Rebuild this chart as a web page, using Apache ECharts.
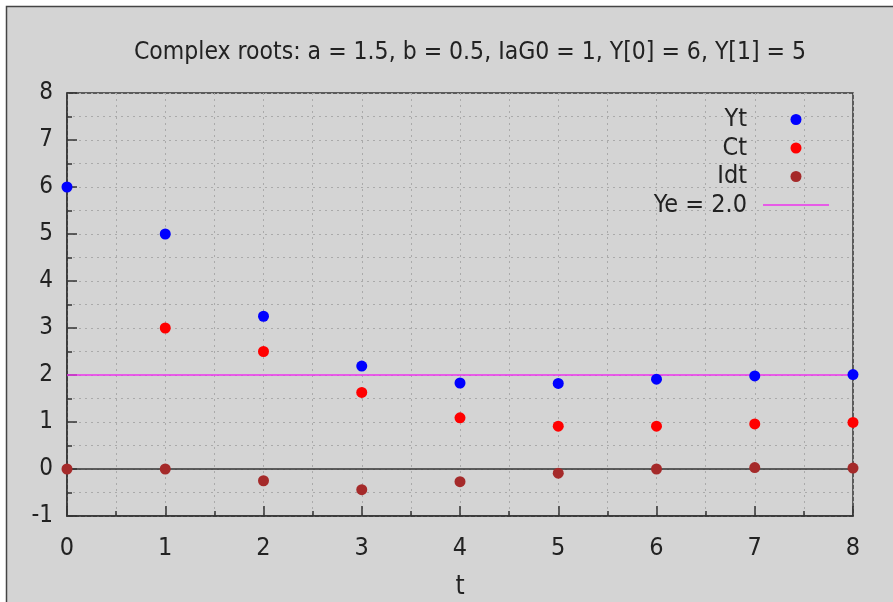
<!DOCTYPE html>
<html><head><meta charset="utf-8">
<script src="https://cdn.jsdelivr.net/npm/echarts@6/dist/echarts.min.js"></script>
<style>html,body{margin:0;padding:0;background:#fff}#c{width:893px;height:602px}</style>
</head><body><div id="c"></div>
<script>
var t = [0, 1, 2, 3, 4, 5, 6, 7, 8];
var Yt = [6, 5, 3.25, 2.19, 1.83, 1.82, 1.91, 1.98, 2.01];
var Ct = [null, 3, 2.5, 1.63, 1.09, 0.91, 0.91, 0.96, 0.99];
var Idt = [0, 0, -0.25, -0.44, -0.27, -0.09, 0, 0.03, 0.02];
var YeX = [0, 8];
var YeVal = [2, 2];
var titleText = 'Complex roots: a = 1.5, b = 0.5, IaG0 = 1, Y[0] = 6, Y[1] = 5';
var FONT = 'DejaVu Sans Condensed';

function pairs(xs, ys) { return xs.map(function (x, i) { return [x, ys[i]]; }).filter(function (p) { return p[1] !== null; }); }

var chart = echarts.init(document.getElementById('c'), null, {renderer: 'canvas'});
var dotted = {show: true, lineStyle: {color: '#aaaaaa', type: [2, 4], width: 1}};
chart.setOption({
  backgroundColor: '#ffffff',
  animation: false,
  graphic: [{type: 'rect', z: -100, silent: true, shape: {x: 6.5, y: 6.5, width: 950, height: 700},
    style: {fill: '#d4d4d4', stroke: '#444', lineWidth: 1.5}}],
  title: {text: titleText, left: 465, top: 35, textAlign: 'center',
    textStyle: {fontFamily: FONT, fontWeight: 'normal', fontSize: 24.5, color: '#222'}},
  grid: {left: 67, top: 93, right: 40, bottom: 86, show: true, borderColor: '#333', borderWidth: 1.5,
    backgroundColor: 'transparent', containLabel: false, outerBoundsMode: 'none'},
  legend: {orient: 'vertical', right: 59, top: 102, align: 'right', itemWidth: 66, itemHeight: 11, itemGap: 3.5,
    symbolKeepAspect: true,
    textStyle: {fontFamily: FONT, fontSize: 25, color: '#222', width: 120, align: 'right', padding: [0, 11, 0, 0]},
    data: [{name: 'Yt', icon: 'circle'}, {name: 'Ct', icon: 'circle'}, {name: 'Idt', icon: 'circle'},
      {name: 'Ye = 2.0', icon: 'path://M0,0L66,0L66,1.6L0,1.6Z'}]},
  xAxis: {type: 'value', min: 0, max: 8, interval: 1, name: 't', nameLocation: 'middle', nameGap: 58,
    nameTextStyle: {fontFamily: FONT, fontSize: 26, color: '#222'},
    axisLine: {show: true, onZero: false, lineStyle: {color: '#333', width: 1.5}},
    axisTick: {show: true, inside: true, length: 10, lineStyle: {color: '#333', width: 1.5}},
    minorTick: {show: true, splitNumber: 2, length: 5, lineStyle: {color: '#333', width: 1.5}},
    splitLine: dotted, minorSplitLine: dotted,
    axisLabel: {fontFamily: FONT, fontSize: 25, color: '#222', margin: 20}},
  yAxis: {type: 'value', min: -1, max: 8, interval: 1,
    axisLine: {show: true, onZero: false, lineStyle: {color: '#333', width: 1.5}},
    axisTick: {show: true, inside: true, length: 10, lineStyle: {color: '#333', width: 1.5}},
    minorTick: {show: true, splitNumber: 2, length: 5, lineStyle: {color: '#333', width: 1.5}},
    splitLine: dotted, minorSplitLine: dotted,
    axisLabel: {fontFamily: FONT, fontSize: 24, color: '#222', margin: 14}},
  series: [
    {name: 'Ye = 2.0', type: 'line', data: pairs(YeX, YeVal), showSymbol: false, symbol: 'none', z: 2,
      itemStyle: {color: '#ee33ee'}, lineStyle: {color: '#ee33ee', width: 1.5},
      markLine: {silent: true, symbol: 'none', label: {show: false}, lineStyle: {color: '#333', type: 'solid', width: 1.5},
        data: [{yAxis: 0}]}},
    {name: 'Yt', type: 'scatter', data: pairs(t, Yt), symbolSize: 11, itemStyle: {color: '#0000ff', opacity: 1}, z: 5},
    {name: 'Ct', type: 'scatter', data: pairs(t, Ct), symbolSize: 11, itemStyle: {color: '#ff0000', opacity: 1}, z: 5},
    {name: 'Idt', type: 'scatter', data: pairs(t, Idt), symbolSize: 11, itemStyle: {color: '#a52a2a', opacity: 1}, z: 5}
  ]
});
</script></body></html>
